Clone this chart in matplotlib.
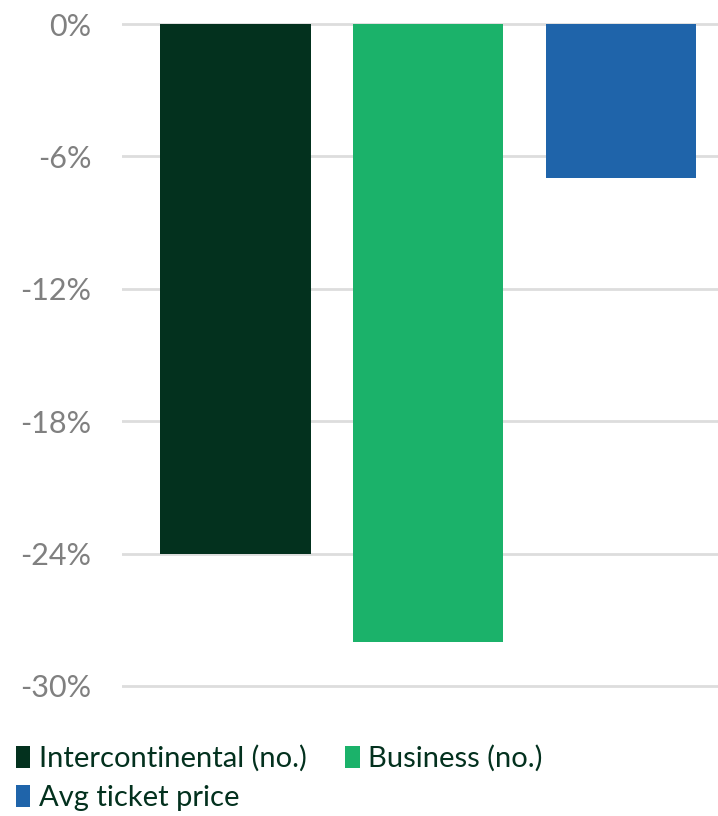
import matplotlib
matplotlib.use("Agg")
import matplotlib.pyplot as plt
from matplotlib.patches import Patch
from matplotlib.ticker import FuncFormatter

# Change in flights, by category (%)
categories = ["Intercontinental (no.)", "Business (no.)", "Avg ticket price"]
values = [-24, -28, -7]
colors = ["#03311e", "#1bb26a", "#1f64aa"]
yticks = [0, -6, -12, -18, -24, -30]

plt.rcParams["font.family"] = ["Lato", "DejaVu Sans"]

fig = plt.figure(figsize=(7.18, 8.16), dpi=100)
ax = fig.add_axes([122 / 718, 1 - 688.2 / 816, 596 / 718, 666.4 / 816])

xs = range(len(values))
ax.bar(xs, values, width=0.78, color=colors, zorder=3)

ax.set_ylim(-30.1, 0.1)
ax.set_xlim(-0.588, 2.503)
ax.set_yticks(yticks)
ax.yaxis.set_major_formatter(FuncFormatter(lambda v, _: f"{v:.0f}%"))
ax.tick_params(axis="y", length=0, pad=22, labelsize=22, labelcolor="#808080")
ax.set_xticks([])
ax.grid(axis="y", color="#dddddd", linewidth=2, zorder=0)
for s in ax.spines.values():
    s.set_visible(False)

# legend fills column-wise, so order entries to read row by row
order = [0, 2, 1]
handles = [Patch(facecolor=colors[i], edgecolor="none") for i in order]
labels = [categories[i] for i in order]
fig.legend(handles, labels, loc="upper left", bbox_to_anchor=(0.022, 0.087),
           ncol=2, frameon=False, fontsize=21, labelcolor="#03311e",
           handlelength=0.5, handleheight=0.8, handletextpad=0.3,
           columnspacing=1.3, labelspacing=0.45, borderaxespad=0, borderpad=0)

fig.savefig("out.png", dpi=100)
